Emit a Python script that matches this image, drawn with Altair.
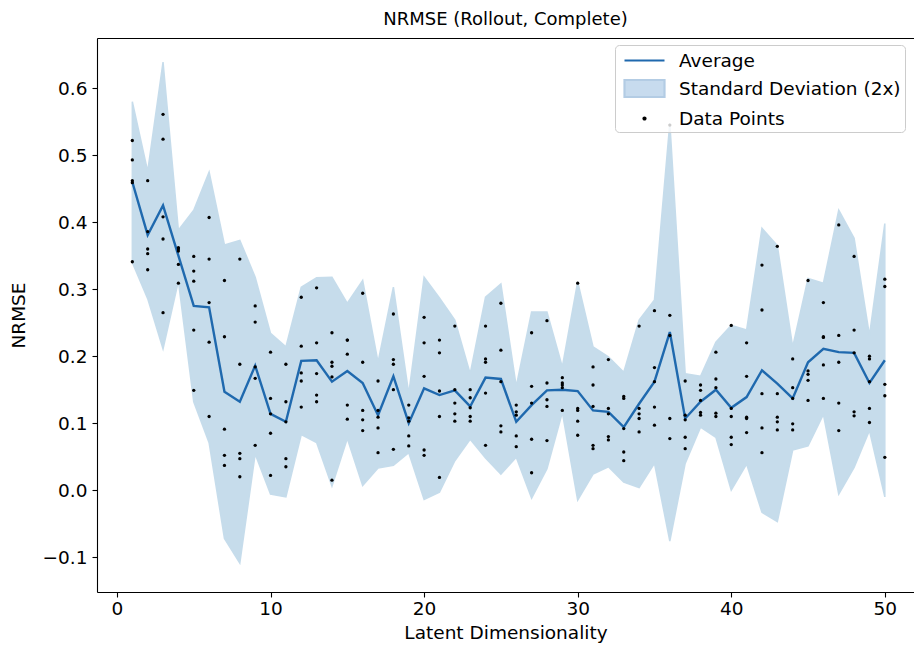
import altair as alt
import pandas as pd

FONT = "DejaVu Sans"

dims = list(range(1, 51))

mean_values = [
    0.460, 0.381, 0.425, 0.350, 0.275, 0.273, 0.147, 0.132, 0.186, 0.114,
    0.102, 0.193, 0.194, 0.162, 0.178, 0.160, 0.112, 0.170, 0.100, 0.152,
    0.142, 0.149, 0.125, 0.168, 0.166, 0.102, 0.127, 0.149, 0.150, 0.148,
    0.119, 0.117, 0.094, 0.129, 0.162, 0.236, 0.107, 0.132, 0.150, 0.123,
    0.139, 0.179, 0.159, 0.137, 0.191, 0.211, 0.206, 0.205, 0.160, 0.194,
]

upper_values = [
    0.580, 0.476, 0.639, 0.388, 0.418, 0.475, 0.366, 0.373, 0.318, 0.234,
    0.214, 0.303, 0.317, 0.318, 0.279, 0.313, 0.191, 0.303, 0.144, 0.318,
    0.287, 0.254, 0.174, 0.288, 0.308, 0.155, 0.266, 0.266, 0.184, 0.311,
    0.214, 0.199, 0.176, 0.254, 0.284, 0.548, 0.174, 0.170, 0.221, 0.246,
    0.239, 0.391, 0.365, 0.214, 0.316, 0.309, 0.418, 0.376, 0.231, 0.398,
]

point_values = [
    [0.522, 0.493, 0.462, 0.459, 0.341],
    [0.462, 0.386, 0.360, 0.353, 0.329],
    [0.561, 0.524, 0.408, 0.375, 0.265],
    [0.362, 0.360, 0.357, 0.337, 0.309],
    [0.349, 0.327, 0.312, 0.239, 0.149],
    [0.407, 0.345, 0.280, 0.221, 0.110],
    [0.313, 0.229, 0.091, 0.052, 0.037],
    [0.345, 0.188, 0.055, 0.047, 0.020],
    [0.275, 0.251, 0.184, 0.167, 0.067],
    [0.206, 0.137, 0.114, 0.085, 0.022],
    [0.188, 0.132, 0.102, 0.047, 0.035],
    [0.288, 0.215, 0.175, 0.163, 0.124],
    [0.302, 0.220, 0.174, 0.142, 0.132],
    [0.235, 0.191, 0.185, 0.169, 0.015],
    [0.224, 0.224, 0.203, 0.127, 0.106],
    [0.294, 0.191, 0.119, 0.105, 0.089],
    [0.163, 0.119, 0.109, 0.093, 0.056],
    [0.263, 0.195, 0.188, 0.150, 0.061],
    [0.127, 0.108, 0.103, 0.081, 0.066],
    [0.258, 0.220, 0.170, 0.060, 0.052],
    [0.224, 0.205, 0.148, 0.110, 0.019],
    [0.245, 0.150, 0.130, 0.114, 0.103],
    [0.150, 0.138, 0.123, 0.110, 0.103],
    [0.245, 0.196, 0.191, 0.145, 0.067],
    [0.279, 0.209, 0.162, 0.096, 0.087],
    [0.127, 0.117, 0.112, 0.081, 0.065],
    [0.235, 0.155, 0.130, 0.076, 0.026],
    [0.253, 0.160, 0.135, 0.125, 0.074],
    [0.168, 0.160, 0.157, 0.153, 0.119],
    [0.309, 0.122, 0.119, 0.103, 0.082],
    [0.184, 0.157, 0.125, 0.067, 0.062],
    [0.195, 0.122, 0.114, 0.080, 0.075],
    [0.140, 0.137, 0.092, 0.057, 0.044],
    [0.245, 0.122, 0.114, 0.107, 0.087],
    [0.268, 0.183, 0.162, 0.124, 0.097],
    [0.545, 0.261, 0.231, 0.107, 0.077],
    [0.163, 0.112, 0.105, 0.079, 0.062],
    [0.157, 0.149, 0.134, 0.116, 0.112],
    [0.206, 0.166, 0.153, 0.115, 0.110],
    [0.246, 0.122, 0.110, 0.079, 0.068],
    [0.220, 0.170, 0.109, 0.107, 0.086],
    [0.336, 0.269, 0.144, 0.093, 0.056],
    [0.364, 0.144, 0.109, 0.102, 0.090],
    [0.196, 0.153, 0.137, 0.099, 0.090],
    [0.313, 0.178, 0.173, 0.164, 0.134],
    [0.280, 0.229, 0.228, 0.187, 0.137],
    [0.396, 0.231, 0.191, 0.130, 0.089],
    [0.349, 0.239, 0.205, 0.117, 0.111],
    [0.200, 0.196, 0.162, 0.122, 0.101],
    [0.315, 0.304, 0.158, 0.141, 0.049],
]

x_ticks = [0, 10, 20, 30, 40, 50]
y_ticks = [-0.1, 0.0, 0.1, 0.2, 0.3, 0.4, 0.5, 0.6]
series_names = ["Average", "Standard Deviation (2x)", "Data Points"]

summary = pd.DataFrame({"dim": dims, "mean": mean_values, "upper": upper_values})
points = pd.DataFrame(
    [{"dim": d, "nrmse": v} for d, vals in zip(dims, point_values) for v in vals]
)
legend_df = pd.DataFrame({"series": series_names})

x_scale = alt.Scale(domain=[-1.3, 51.9], nice=False, zero=False)
y_scale = alt.Scale(domain=[-0.152, 0.675], nice=False, zero=False)

common_axis = dict(
    labelFont=FONT, labelFontSize=18.5, labelColor="black",
    titleFont=FONT, titleFontSize=18.5, titleFontWeight="normal", titleColor="black",
    tickSize=5, tickWidth=1.1, tickColor="black",
    domainColor="black", domainWidth=1.1, grid=False,
)

y_axis = alt.Axis(values=y_ticks, format=".1f", title="NRMSE", labelPadding=5,
                  titleX=-79, titleBaseline="middle", **common_axis)
x_axis_bottom = alt.Axis(values=x_ticks, format="d", title="Latent Dimensionality",
                         labelPadding=2, titlePadding=6, labelFlush=False, **common_axis)
x_axis_top = alt.Axis(orient="top", labels=False, ticks=False, title=None,
                      grid=False, domainColor="black", domainWidth=1.1)

band = (
    alt.Chart(summary)
    .transform_calculate(lower="2 * datum.mean - datum.upper")
    .mark_area(color="#1f77b4", opacity=0.25, stroke="#1f77b4", strokeWidth=1.5)
    .encode(
        x=alt.X("dim:Q", scale=x_scale, axis=x_axis_bottom),
        y=alt.Y("lower:Q", scale=y_scale, axis=y_axis),
        y2="upper:Q",
    )
)

line = (
    alt.Chart(summary)
    .mark_line(color="#1f69ae", strokeWidth=2.4)
    .encode(
        x=alt.X("dim:Q", scale=x_scale, axis=x_axis_top),
        y=alt.Y("mean:Q", scale=y_scale, axis=y_axis),
    )
)

dots = (
    alt.Chart(points)
    .mark_circle(color="black", size=11, opacity=1)
    .encode(
        x=alt.X("dim:Q", scale=x_scale, axis=None),
        y=alt.Y("nrmse:Q", scale=y_scale, axis=y_axis),
    )
)

shape_paths = [
    "M-2,0H2",
    "M-2,-0.85H2V0.85H-2Z",
    "M0,-0.1A0.1,0.1 0 1,1 0,0.1A0.1,0.1 0 1,1 0,-0.1Z",
]
fill_colors = ["transparent", "#c7dbee", "black"]
stroke_colors = ["#1f69ae", "#b3cce4", "black"]

leg = alt.Legend(
    title=None, orient="none", legendX=518, legendY=7,
    symbolSize=400, symbolStrokeWidth=2.2, symbolOpacity=1,
    symbolOffset=14, labelOffset=23, rowPadding=5, padding=4,
    labelFont=FONT, labelFontSize=18.5, labelColor="black", labelLimit=500,
    fillColor="rgba(255,255,255,0.8)", strokeColor="#cccccc", cornerRadius=4,
)

legend_layer = (
    alt.Chart(legend_df)
    .transform_filter("false")
    .mark_point(opacity=1)
    .encode(
        shape=alt.Shape("series:N", scale=alt.Scale(domain=series_names, range=shape_paths), legend=leg),
        fill=alt.Fill("series:N", scale=alt.Scale(domain=series_names, range=fill_colors), legend=leg),
        stroke=alt.Stroke("series:N", scale=alt.Scale(domain=series_names, range=stroke_colors), legend=leg),
    )
)

chart = (
    alt.layer(band, line, dots, legend_layer)
    .resolve_axis(x="independent")
    .properties(
        width=817,
        height=554,
        title=alt.TitleParams(
            "NRMSE (Rollout, Complete)", font=FONT, fontSize=18,
            fontWeight="normal", color="black", anchor="middle", offset=9,
        ),
        autosize=alt.AutoSizeParams(type="none"),
        padding={"left": 97, "top": 38, "right": 0, "bottom": 60},
    )
    .configure_view(stroke=None)
    .configure(background="white")
)

chart.save("out.html", embed_options={"renderer": "svg", "actions": False})
